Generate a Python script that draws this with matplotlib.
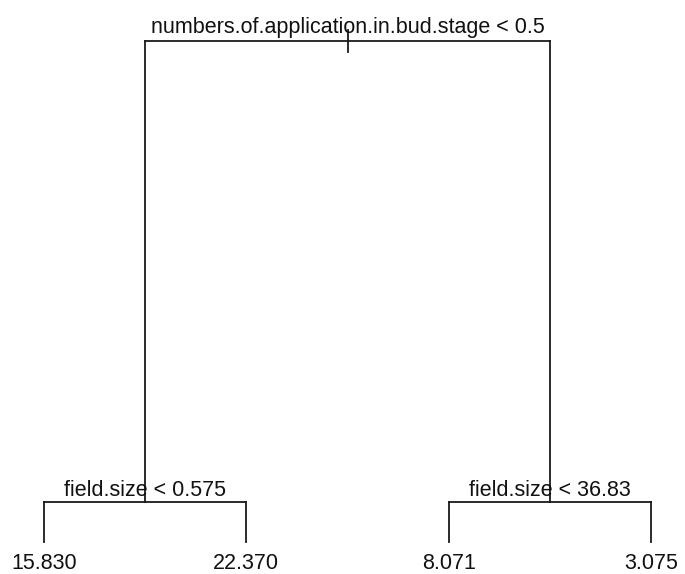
import matplotlib
matplotlib.use("Agg")
import matplotlib.pyplot as plt

# Tree structure (R tree plot): leaves equally spaced, heights from deviance
split_labels = ["numbers.of.application.in.bud.stage < 0.5",
                "field.size < 0.575",
                "field.size < 36.83"]
leaf_labels = ["15.830", "22.370", "8.071", "3.075"]
leaf_x = [1, 2, 3, 4]
root_height = 1.0
split_heights = [0.0798, 0.0798]
leaf_height = 0.0

plt.rcParams['font.family'] = ['Liberation Sans', 'DejaVu Sans']
fig = plt.figure(figsize=(6.85, 5.74), dpi=100)
ax = fig.add_axes([0, 0, 1, 1])
ax.set_xlim(0.7825, 4.168)
ax.set_ylim(-0.0638, 1.0808)
ax.axis('off')

lc = '#1a1a1a'
lw = 1.3

# internal node positions
left_x = (leaf_x[0] + leaf_x[1]) / 2
right_x = (leaf_x[2] + leaf_x[3]) / 2
root_x = (left_x + right_x) / 2

# root horizontal bar and stem
ax.plot([left_x, right_x], [root_height, root_height], color=lc, lw=lw)
ax.plot([root_x, root_x], [root_height + 0.02, root_height - 0.022], color=lc, lw=lw)
# root to children verticals
ax.plot([left_x, left_x], [root_height, split_heights[0]], color=lc, lw=lw)
ax.plot([right_x, right_x], [root_height, split_heights[1]], color=lc, lw=lw)
# children horizontal bars
ax.plot([leaf_x[0], leaf_x[1]], [split_heights[0]] * 2, color=lc, lw=lw)
ax.plot([leaf_x[2], leaf_x[3]], [split_heights[1]] * 2, color=lc, lw=lw)
# leaf verticals
for i, lx in enumerate(leaf_x):
    h = split_heights[0] if i < 2 else split_heights[1]
    ax.plot([lx, lx], [h, leaf_height], color=lc, lw=lw)

fs = 15.5
# split labels
ax.annotate(split_labels[0], (root_x, root_height), xytext=(0, 5.5),
            textcoords='offset points', ha='center', va='baseline', fontsize=fs, color='#111')
ax.annotate(split_labels[1], (left_x, split_heights[0]), xytext=(0, 4.5),
            textcoords='offset points', ha='center', va='baseline', fontsize=fs, color='#111')
ax.annotate(split_labels[2], (right_x, split_heights[1]), xytext=(0, 4.5),
            textcoords='offset points', ha='center', va='baseline', fontsize=fs, color='#111')
# leaf labels
for lx, lab in zip(leaf_x, leaf_labels):
    ax.annotate(lab, (lx, leaf_height), xytext=(0, -19.3),
                textcoords='offset points', ha='center', va='baseline', fontsize=fs, color='#111')

fig.savefig("out.png", dpi=100, facecolor='white')
